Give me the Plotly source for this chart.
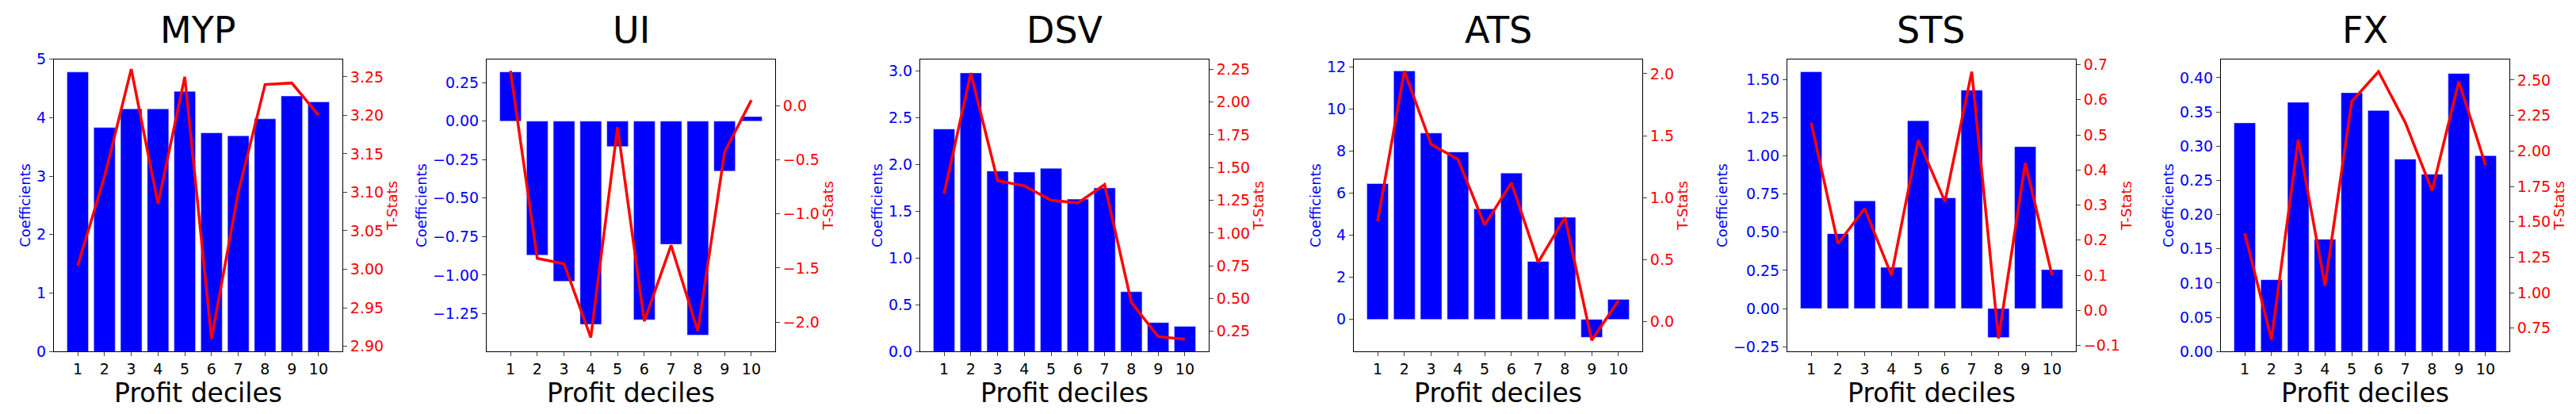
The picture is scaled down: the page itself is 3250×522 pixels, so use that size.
import plotly.graph_objects as go

deciles = list(range(1, 11))
titles = ["MYP", "UI", "DSV", "ATS", "STS", "FX"]

myp_coef = [4.78, 3.83, 4.15, 4.15, 4.45, 3.74, 3.69, 3.98, 4.37, 4.27]
myp_t = [3.005, 3.12, 3.26, 3.085, 3.25, 2.91, 3.10, 3.24, 3.242, 3.20]
ui_coef = [0.32, -0.87, -1.04, -1.32, -0.165, -1.29, -0.80, -1.39, -0.325, 0.03]
ui_t = [0.32, -1.41, -1.46, -2.14, -0.20, -1.99, -1.29, -2.08, -0.43, 0.05]
dsv_coef = [2.38, 2.98, 1.93, 1.92, 1.96, 1.63, 1.75, 0.64, 0.31, 0.27]
dsv_t = [1.30, 2.22, 1.40, 1.36, 1.25, 1.23, 1.37, 0.47, 0.21, 0.19]
ats_coef = [6.45, 11.8, 8.85, 7.95, 5.25, 6.95, 2.75, 4.85, -0.85, 0.95]
ats_t = [0.81, 2.02, 1.43, 1.31, 0.78, 1.12, 0.48, 0.84, -0.15, 0.17]
sts_coef = [1.55, 0.49, 0.705, 0.27, 1.23, 0.725, 1.43, -0.19, 1.06, 0.255]
sts_t = [0.535, 0.19, 0.29, 0.10, 0.485, 0.31, 0.68, -0.08, 0.42, 0.10]
fx_coef = [0.334, 0.105, 0.364, 0.164, 0.378, 0.352, 0.281, 0.259, 0.406, 0.286]
fx_t = [1.42, 0.67, 2.08, 1.05, 2.35, 2.56, 2.20, 1.72, 2.49, 1.90]

coefs = [myp_coef, ui_coef, dsv_coef, ats_coef, sts_coef, fx_coef]
tstats = [myp_t, ui_t, dsv_t, ats_t, sts_t, fx_t]

# axis ranges and tick steps
left_ranges = [[0, 5], [-1.497, 0.403], [0, 3.127], [-1.53, 12.36], [-0.282, 1.633], [0, 0.427]]
left_dtick = [1, 0.25, 0.5, 2, 0.25, 0.05]
left_fmt = ["d", ".2f", ".1f", "d", ".2f", ".2f"]
right_ranges = [[2.893, 3.273], [-2.271, 0.428], [0.0954, 2.327], [-0.241, 2.117], [-0.1175, 0.7157], [0.584, 2.648]]
right_dtick = [0.05, 0.5, 0.25, 0.5, 0.1, 0.25]
right_fmt = [".2f", ".1f", ".2f", ".1f", ".1f", ".2f"]

W, H = 3250, 522
lefts = [60, 606, 1153, 1700, 2247, 2794]
pw = 364
y0, y1 = 1 - 443 / H, 1 - 58 / H

fig = go.Figure()
tick_font = dict(family="DejaVu Sans", size=19, color="black")
layout = dict(width=W, height=H, margin=dict(l=0, r=0, t=0, b=0),
              plot_bgcolor="white", paper_bgcolor="white", showlegend=False,
              bargap=0.2, annotations=[])

for i in range(6):
    n = i + 1
    xa = "x" if n == 1 else f"x{n}"
    ya = f"y{2 * i + 1}" if i else "y"
    yb = f"y{2 * i + 2}"
    fig.add_trace(go.Bar(x=deciles, y=coefs[i], marker_color="blue", width=0.8,
                         xaxis=xa, yaxis=ya))
    fig.add_trace(go.Scatter(x=deciles, y=tstats[i], mode="lines",
                             line=dict(color="red", width=3.5), xaxis=xa, yaxis=yb))
    d0, d1 = lefts[i] / W, (lefts[i] + pw) / W
    layout["xaxis" if n == 1 else f"xaxis{n}"] = dict(
        domain=[d0, d1], range=[0.11, 10.89], tickvals=deciles,
        showline=True, linecolor="black", mirror=True, ticks="outside",
        showgrid=False, zeroline=False, tickfont=tick_font,
        title=dict(text="Profit deciles", font=dict(family="DejaVu Sans", size=33, color="black"), standoff=4),
        anchor=ya)
    layout["yaxis" if i == 0 else f"yaxis{2 * i + 1}"] = dict(
        domain=[y0, y1], range=left_ranges[i], dtick=left_dtick[i], tickformat=left_fmt[i],
        showline=True, linecolor="black", ticks="outside", showgrid=False, zeroline=False,
        tickfont=dict(family="DejaVu Sans", size=19, color="blue"),
        title=dict(text="Coefficients", font=dict(family="DejaVu Sans", size=18, color="blue"), standoff=2),
        anchor=xa)
    layout[f"yaxis{2 * i + 2}"] = dict(
        domain=[y0, y1], range=right_ranges[i], dtick=right_dtick[i], tickformat=right_fmt[i],
        overlaying=ya, side="right", anchor=xa,
        showline=True, linecolor="black", ticks="outside", showgrid=False, zeroline=False,
        tickfont=dict(family="DejaVu Sans", size=19, color="red"),
        title=dict(text="T-Stats", font=dict(family="DejaVu Sans", size=18, color="red"), standoff=2))
    layout["annotations"].append(dict(
        text=titles[i], x=(d0 + d1) / 2, y=y1 + 0.015, xref="paper", yref="paper",
        xanchor="center", yanchor="bottom", showarrow=False,
        font=dict(family="DejaVu Sans", size=46, color="black")))

fig.update_layout(**layout)
fig.write_html("out.html")
